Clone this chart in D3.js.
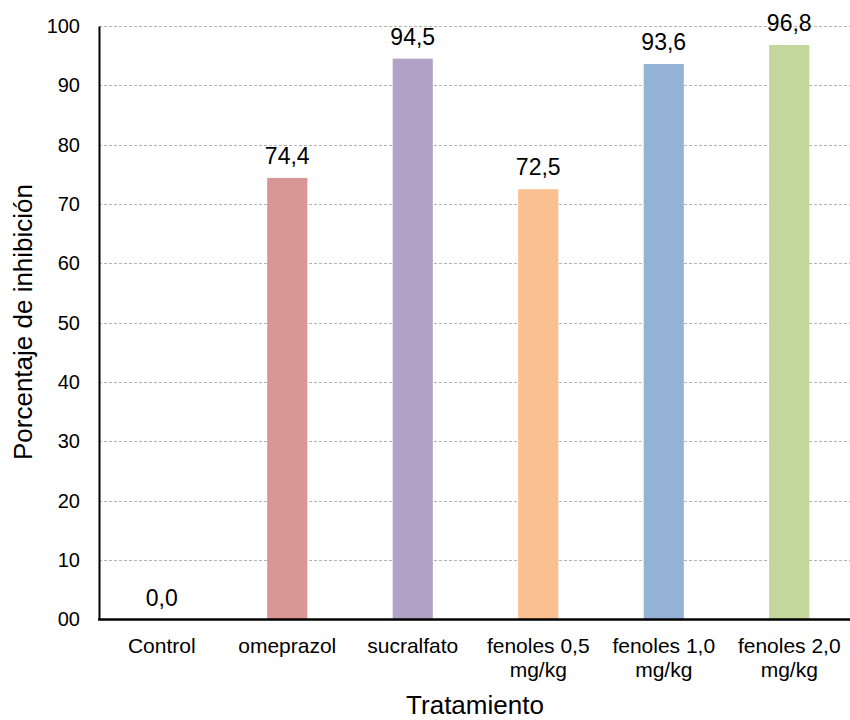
<!DOCTYPE html>
<html>
<head>
<meta charset="utf-8">
<script src="https://cdn.jsdelivr.net/npm/d3@7"></script>
<style>
  body { margin: 0; background: #fff; }
  svg { font-family: "Liberation Sans", Arial, sans-serif; }
</style>
</head>
<body>
<svg id="chart" width="850" height="720"></svg>
<script>
// Treatments and their inhibition percentages
const categories = [
  ["Control"],
  ["omeprazol"],
  ["sucralfato"],
  ["fenoles 0,5", "mg/kg"],
  ["fenoles 1,0", "mg/kg"],
  ["fenoles 2,0", "mg/kg"]
];
const values = [0.0, 74.4, 94.5, 72.5, 93.6, 96.8];
const colors = ["#4f81bd", "#d99694", "#b3a2c7", "#fac090", "#95b3d7", "#c3d69b"];
const yTicks = [0, 10, 20, 30, 40, 50, 60, 70, 80, 90, 100];
const yTickLabels = ["00", "10", "20", "30", "40", "50", "60", "70", "80", "90", "100"];

const svg = d3.select("#chart");
const margin = { left: 99, top: 26 };
const width = 850;
const plotBottom = 619.5;

const x = d3.scaleBand()
  .domain(d3.range(categories.length))
  .range([margin.left, width + 2])
  .paddingInner(0.68)
  .paddingOuter(0.34);

const y = d3.scaleLinear().domain([0, 100]).range([plotBottom, margin.top]);

// dashed horizontal gridlines
svg.append("g")
  .selectAll("line")
  .data(yTicks.filter(d => d > 0))
  .join("line")
  .attr("x1", margin.left)
  .attr("x2", width)
  .attr("y1", d => Math.round(y(d)) + 0.5)
  .attr("y2", d => Math.round(y(d)) + 0.5)
  .attr("stroke", "#b4b4b4")
  .attr("stroke-width", 1)
  .attr("stroke-dasharray", "3,2");

// bars
svg.append("g")
  .selectAll("rect")
  .data(values)
  .join("rect")
  .attr("x", (d, i) => x(i))
  .attr("width", x.bandwidth())
  .attr("y", d => y(d))
  .attr("height", d => plotBottom - y(d))
  .attr("fill", (d, i) => colors[i]);

// value labels
svg.append("g")
  .selectAll("text")
  .data(values)
  .join("text")
  .attr("x", (d, i) => x(i) + x.bandwidth() / 2)
  .attr("y", d => y(d) - 14)
  .attr("text-anchor", "middle")
  .attr("font-size", 23)
  .attr("fill", "#000")
  .text(d => d.toFixed(1).replace(".", ","));

// y axis
const yAxis = d3.axisLeft(y)
  .tickValues(yTicks)
  .tickSize(0)
  .tickPadding(19)
  .tickFormat((d, i) => yTickLabels[i]);
const gy = svg.append("g")
  .attr("transform", `translate(${margin.left},0)`)
  .attr("font-size", 20)
  .attr("font-family", "Liberation Sans, Arial, sans-serif")
  .call(yAxis);
gy.attr("font-size", 20).attr("font-family", "Liberation Sans, Arial, sans-serif");
gy.select(".domain").attr("stroke", "#000").attr("stroke-width", 2);
gy.selectAll("text").attr("fill", "#000");

// x axis line
svg.append("line")
  .attr("x1", margin.left - 1)
  .attr("x2", width)
  .attr("y1", plotBottom)
  .attr("y2", plotBottom)
  .attr("stroke", "#000")
  .attr("stroke-width", 2.5);

// category labels (may span two lines)
const catG = svg.append("g")
  .selectAll("text")
  .data(categories)
  .join("text")
  .attr("x", (d, i) => x(i) + x.bandwidth() / 2)
  .attr("y", 653)
  .attr("text-anchor", "middle")
  .attr("font-size", 21)
  .attr("fill", "#000");
catG.selectAll("tspan")
  .data(d => d)
  .join("tspan")
  .attr("x", function () { return d3.select(this.parentNode).attr("x"); })
  .attr("dy", (d, i) => i === 0 ? 0 : 24)
  .text(d => d);

// axis titles
svg.append("text")
  .attr("x", 475)
  .attr("y", 714)
  .attr("text-anchor", "middle")
  .attr("font-size", 26)
  .attr("fill", "#000")
  .text("Tratamiento");

svg.append("text")
  .attr("transform", "translate(32,322) rotate(-90)")
  .attr("text-anchor", "middle")
  .attr("font-size", 26)
  .attr("fill", "#000")
  .text("Porcentaje de inhibición");
</script>
</body>
</html>
